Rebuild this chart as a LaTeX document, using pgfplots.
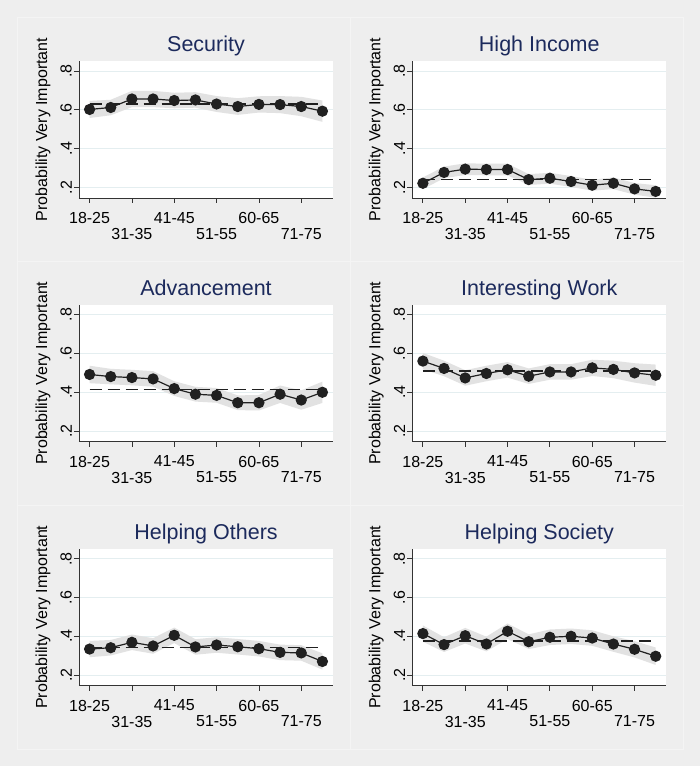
\documentclass[border=0pt]{standalone}
\usepackage{fontspec}
\setmainfont{Liberation Sans}
\usepackage{pgfplots}
\pgfplotsset{compat=1.18}
\definecolor{bg}{RGB}{238,238,238}
\definecolor{edge}{RGB}{244,244,244}
\definecolor{gridc}{RGB}{228,238,240}
\definecolor{navy}{RGB}{28,42,92}
\definecolor{dot}{RGB}{32,32,32}
\definecolor{bandc}{RGB}{226,226,226}
\newcommand{\tickfont}{\fontsize{16}{17}\selectfont}
\pgfplotsset{panel/.style={
  scale only axis, width=254pt, height=137pt, anchor=south west,
  xmin=0.5, xmax=12.5, ymin=0.145, ymax=0.852,
  axis x line*=bottom, axis y line*=left,
  axis line style={black!80, line width=0.8pt},
  every tick/.style={black!80, line width=0.8pt},
  tick align=outside, major tick length=5pt,
  /pgf/number format/assume math mode=true,
  xtick={1,5,9},
  xticklabels={18-25,41-45,60-65},
  extra x ticks={3,7,11},
  extra x tick labels={31-35,51-55,71-75},
  extra x tick style={xticklabel style={yshift=-16pt}},
  xticklabel style={font=\tickfont, inner sep=2pt, yshift=-7pt},
  ytick={0.2,0.4,0.6,0.8}, yticklabels={.2,.4,.6,.8},
  yticklabel style={rotate=90, anchor=south, font=\tickfont, inner sep=2pt},
  ymajorgrids, major grid style={gridc, line width=0.8pt},
  axis background/.style={fill=white},
  ylabel={Probability Very Important},
  ylabel style={at={(axis description cs:-0.142,0.5)}, anchor=center, font=\tickfont},
  title style={at={(axis description cs:0.5,1)}, anchor=base, yshift=3pt, font=\fontsize{21.5}{24}\selectfont, text=navy},
}}
\pgfplotsset{
  band/.style={draw=none, fill=bandc, forget plot},
  meanl/.style={dot, line width=1.5pt, dash pattern=on 12pt off 6pt, forget plot},
  series/.style={dot, line width=1.2pt, mark=*, mark size=5pt, mark options={fill=dot, draw=dot, solid}},
}
\begin{document}
\begin{tikzpicture}
\fill[bg] (0,0) rectangle (700pt,766pt);
\draw[edge, line width=0.8pt] (17pt,17pt) rectangle (683pt,749pt);
\draw[edge, line width=0.8pt] (350pt,17pt) -- (350pt,749pt);
\draw[edge, line width=0.8pt] (17pt,505pt) -- (683pt,505pt);
\draw[edge, line width=0.8pt] (17pt,261pt) -- (683pt,261pt);

% Security
\begin{axis}[panel, at={(79pt,568pt)}, title={Security}]
\addplot[band] coordinates {(1,0.646) (2,0.652) (3,0.698) (4,0.698) (5,0.688) (6,0.691) (7,0.671) (8,0.660) (9,0.670) (10,0.671) (11,0.667) (12,0.648)
 (12,0.538) (11,0.567) (10,0.583) (9,0.586) (8,0.574) (7,0.589) (6,0.611) (5,0.608) (4,0.614) (3,0.614) (2,0.572) (1,0.558)} -- cycle;
\addplot[meanl] coordinates {(1,0.629) (12,0.629)};
\addplot[series] coordinates {(1,0.602) (2,0.612) (3,0.656) (4,0.656) (5,0.648) (6,0.651) (7,0.630) (8,0.617) (9,0.628) (10,0.627) (11,0.617) (12,0.593)};
\end{axis}

% High Income
\begin{axis}[panel, at={(412.3pt,568pt)}, title={High Income}]
\addplot[band] coordinates {(1,0.251) (2,0.307) (3,0.324) (4,0.322) (5,0.322) (6,0.268) (7,0.275) (8,0.258) (9,0.239) (10,0.251) (11,0.222) (12,0.211)
 (12,0.147) (11,0.162) (10,0.191) (9,0.183) (8,0.202) (7,0.219) (6,0.212) (5,0.262) (4,0.262) (3,0.264) (2,0.247) (1,0.191)} -- cycle;
\addplot[meanl] coordinates {(1,0.240) (12,0.240)};
\addplot[series] coordinates {(1,0.221) (2,0.277) (3,0.294) (4,0.292) (5,0.292) (6,0.240) (7,0.247) (8,0.230) (9,0.211) (10,0.221) (11,0.192) (12,0.179)};
\end{axis}

% Advancement
\begin{axis}[panel, at={(79pt,324.3pt)}, title={Advancement}]
\addplot[band] coordinates {(1,0.537) (2,0.521) (3,0.516) (4,0.509) (5,0.457) (6,0.428) (7,0.422) (8,0.384) (9,0.386) (10,0.435) (11,0.410) (12,0.455)
 (12,0.345) (11,0.310) (10,0.345) (9,0.306) (8,0.308) (7,0.346) (6,0.352) (5,0.381) (4,0.429) (3,0.436) (2,0.441) (1,0.447)} -- cycle;
\addplot[meanl] coordinates {(1,0.414) (12,0.414)};
\addplot[series] coordinates {(1,0.492) (2,0.481) (3,0.476) (4,0.469) (5,0.419) (6,0.390) (7,0.384) (8,0.346) (9,0.346) (10,0.390) (11,0.360) (12,0.400)};
\end{axis}

% Interesting Work
\begin{axis}[panel, at={(412.3pt,324.3pt)}, title={Interesting Work}]
\addplot[band] coordinates {(1,0.603) (2,0.563) (3,0.514) (4,0.537) (5,0.556) (6,0.523) (7,0.545) (8,0.545) (9,0.568) (10,0.563) (11,0.550) (12,0.543)
 (12,0.433) (11,0.450) (10,0.473) (9,0.484) (8,0.465) (7,0.465) (6,0.443) (5,0.476) (4,0.457) (3,0.434) (2,0.483) (1,0.519)} -- cycle;
\addplot[meanl] coordinates {(1,0.509) (12,0.509)};
\addplot[series] coordinates {(1,0.561) (2,0.523) (3,0.474) (4,0.497) (5,0.516) (6,0.483) (7,0.505) (8,0.505) (9,0.526) (10,0.518) (11,0.500) (12,0.488)};
\end{axis}

% Helping Others
\begin{axis}[panel, at={(79pt,80.3pt)}, title={Helping Others}]
\addplot[band] coordinates {(1,0.376) (2,0.381) (3,0.409) (4,0.390) (5,0.445) (6,0.385) (7,0.395) (8,0.386) (9,0.376) (10,0.357) (11,0.354) (12,0.312)
 (12,0.228) (11,0.274) (10,0.277) (9,0.296) (8,0.306) (7,0.315) (6,0.305) (5,0.365) (4,0.310) (3,0.329) (2,0.301) (1,0.292)} -- cycle;
\addplot[meanl] coordinates {(1,0.343) (12,0.343)};
\addplot[series] coordinates {(1,0.334) (2,0.341) (3,0.369) (4,0.350) (5,0.405) (6,0.345) (7,0.355) (8,0.346) (9,0.336) (10,0.317) (11,0.314) (12,0.270)};
\end{axis}

% Helping Society
\begin{axis}[panel, at={(412.3pt,80.3pt)}, title={Helping Society}]
\addplot[band] coordinates {(1,0.456) (2,0.395) (3,0.443) (4,0.398) (5,0.466) (6,0.410) (7,0.435) (8,0.440) (9,0.431) (10,0.400) (11,0.375) (12,0.342)
 (12,0.252) (11,0.291) (10,0.320) (9,0.351) (8,0.360) (7,0.355) (6,0.334) (5,0.386) (4,0.322) (3,0.363) (2,0.319) (1,0.372)} -- cycle;
\addplot[meanl] coordinates {(1,0.376) (12,0.376)};
\addplot[series] coordinates {(1,0.414) (2,0.357) (3,0.403) (4,0.360) (5,0.426) (6,0.372) (7,0.395) (8,0.400) (9,0.391) (10,0.360) (11,0.333) (12,0.297)};
\end{axis}
\end{tikzpicture}
\end{document}
